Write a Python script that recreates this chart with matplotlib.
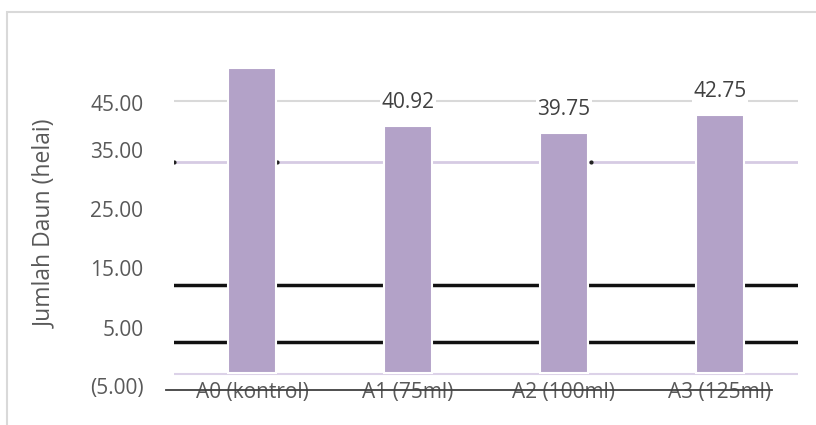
import matplotlib.pyplot as plt
from matplotlib.patches import Rectangle
import numpy as np

# data
categories = ["A0 (kontrol)", "A1 (75ml)", "A2 (100ml)", "A3 (125ml)"]
values = [50.50, 40.92, 39.75, 42.75]
value_labels = ["", "40.92", "39.75", "42.75"]

# tick labels as they appear on the (misaligned) original axis
ytick_pos = [44.7, 36.9, 27.2, 17.4, 7.4, -2.1]
ytick_text = ["45.00", "35.00", "25.00", "15.00", "5.00", "(5.00)"]

bar_color = "#b3a2c8"
txt_color = "#595959"
font = "Open Sans"

fig = plt.figure(figsize=(8.16, 4.25), dpi=100)
fig.patches.append(Rectangle((7 / 816, -0.1), 1.2, (425 - 12) / 425 + 0.1,
                             transform=fig.transFigure, fill=False,
                             ec="#d9d9d9", lw=1.5))

ax = fig.add_axes([174 / 816, 25 / 425, 624 / 816, 370 / 425])
ax.set_xlim(-0.5, 3.5)
ax.set_ylim(-4.47, 56.8)
for s in ax.spines.values():
    s.set_visible(False)

x = np.arange(len(categories))

# assorted gridlines
ax.axhline(45.06, color="#d9d9d9", lw=1.5, zorder=1)
ax.axhline(34.96, color="#d6cbe3", lw=2, zorder=1)
ax.plot([-0.5, 0.16, 2.17], [34.96] * 3, "o", color="#222222", ms=2, zorder=1)
ax.axhline(14.58, color="#111111", lw=2.5, zorder=1)
ax.axhline(5.14, color="#111111", lw=2.5, zorder=1)
ax.axhline(-0.17, color="#dcd2e8", lw=1.5, zorder=1)
ax.axhline(-2.82, xmin=-0.013, xmax=0.958, color="#404040", lw=1.3,
           zorder=4, clip_on=False)

ax.bar(x, values, width=0.31, color=bar_color, edgecolor="white",
       linewidth=1.5, zorder=2)

for xi, v, lab in zip(x, values, value_labels):
    if lab:
        ax.annotate(lab, (xi, v), xytext=(0, 17), textcoords="offset points",
                    ha="center", va="center", fontsize=15, family=font,
                    color="#404040", zorder=5,
                    bbox=dict(fc="white", ec="none", pad=1))

ax.set_xticks([])
ax.set_yticks(ytick_pos, ytick_text)
ax.tick_params(axis="y", length=0, pad=22, labelsize=15, labelcolor=txt_color)
for t in ax.get_yticklabels():
    t.set_family(font)

for xi, c in zip(x, categories):
    ax.text(xi, -3.3, c, ha="center", va="center", fontsize=15, family=font,
            color=txt_color, zorder=3)

ax.set_ylabel("Jumlah Daun (helai)", fontsize=16.5, family=font,
              color=txt_color, va="center")
ax.yaxis.set_label_coords(-0.207, 0.476)

fig.savefig("out.png", dpi=100)
